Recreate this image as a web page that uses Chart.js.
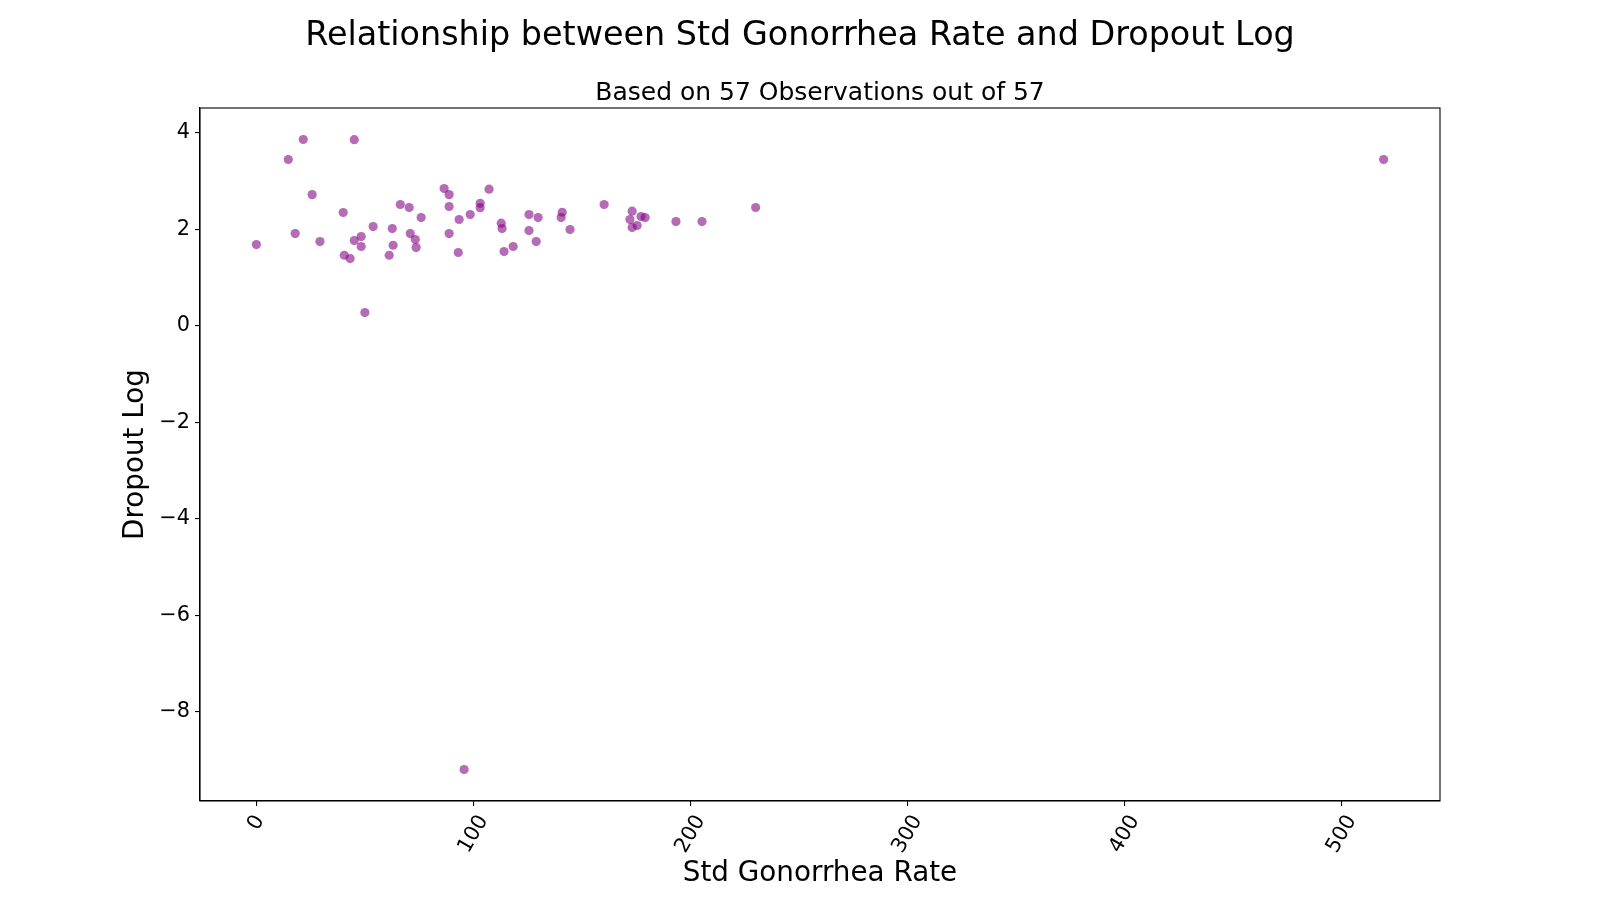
<!DOCTYPE html>
<html>
<head>
<meta charset="utf-8">
<script src="https://cdn.jsdelivr.net/npm/chart.js"></script>
<style>
  html, body { margin: 0; padding: 0; background: #ffffff; }
  #wrap { width: 1600px; height: 900px; }
</style>
</head>
<body>
<div id="wrap"><canvas id="scatterChart" width="1600" height="900"></canvas></div>
<script>
// Data
const gonorrheaRate = [
    0, 21.6, 45.1, 14.7, 25.7, 17.9, 29.3, 40.0, 40.5, 43.2,
    45.1, 48.3, 48.3, 50.0, 53.8, 62.6, 63.0, 61.2, 66.3, 70.4,
    75.9, 70.9, 73.2, 73.6, 86.5, 88.8, 88.8, 88.8, 93.0, 93.4,
    98.5, 103.1, 103.1, 107.2, 112.8, 113.2, 114.1, 118.3, 125.6, 129.8,
    125.6, 128.9, 140.9, 140.4, 144.5, 160.2, 173.1, 172.1, 173.1, 175.4,
    177.2, 179.1, 193.3, 205.3, 230.0, 95.7, 519.3
];
const dropoutLog = [
    1.685, 3.863, 3.86, 3.448, 2.72, 1.913, 1.747, 2.349, 1.463, 1.395,
    1.768, 1.851, 1.644, 0.275, 2.058, 2.017, 1.67, 1.463, 2.515, 2.453,
    2.245, 1.913, 1.789, 1.623, 2.847, 2.72, 2.474, 1.913, 1.52, 2.204,
    2.307, 2.54, 2.45, 2.832, 2.127, 2.017, 1.54, 1.644, 2.307, 2.245,
    1.975, 1.747, 2.355, 2.245, 1.996, 2.515, 2.376, 2.204, 2.038, 2.08,
    2.266, 2.245, 2.162, 2.162, 2.453, -9.2, 3.448
];
const xTicks = [0, 100, 200, 300, 400, 500];
const yTicks = [-8, -6, -4, -2, 0, 2, 4];

const titleText = 'Relationship between Std Gonorrhea Rate and Dropout Log';
const subtitleText = 'Based on 57 Observations out of 57';
const xLabel = 'Std Gonorrhea Rate';
const yLabel = 'Dropout Log';

const FONT = "'DejaVu Sans', 'Liberation Sans', sans-serif";
const TICK_SIZE = 20.8;

// 5% margins like matplotlib autoscale
function padRange(values) {
    const lo = Math.min(...values), hi = Math.max(...values);
    const pad = (hi - lo) * 0.05;
    return [lo - pad, hi + pad];
}
const [xMin, xMax] = padRange(gonorrheaRate);
const [yMin, yMax] = padRange(dropoutLog);

const minus = v => String(v).replace('-', '\u2212');

// frame, titles, rotated x tick labels
const decorPlugin = {
    id: 'decor',
    afterDraw(chart) {
        const { ctx, chartArea } = chart;
        const xs = chart.scales.x;
        ctx.save();
        ctx.strokeStyle = '#000';
        ctx.lineWidth = 1.1;
        ctx.strokeRect(chartArea.left, chartArea.top,
                       chartArea.right - chartArea.left, chartArea.bottom - chartArea.top);

        ctx.fillStyle = '#000';
        ctx.textAlign = 'center';
        ctx.textBaseline = 'alphabetic';
        ctx.font = '33.4px ' + FONT;
        ctx.fillText(titleText, 800, 45);
        ctx.font = '25px ' + FONT;
        ctx.fillText(subtitleText, (chartArea.left + chartArea.right) / 2, 100);

        // x tick labels, rotated 60 degrees about their centre
        ctx.font = TICK_SIZE + 'px ' + FONT;
        ctx.textBaseline = 'middle';
        const ang = 60 * Math.PI / 180;
        xs.ticks.forEach(t => {
            const label = minus(t.value);
            const w = ctx.measureText(label).width;
            const h = 24;
            const boxH = w * Math.sin(ang) + h * Math.cos(ang);
            const px = xs.getPixelForValue(t.value);
            const py = chartArea.bottom + 10 + boxH / 2;
            ctx.save();
            ctx.translate(px, py);
            ctx.rotate(-ang);
            ctx.fillText(label, 0, 0);
            ctx.restore();
        });

        // axis labels
        ctx.font = '27.8px ' + FONT;
        ctx.textBaseline = 'middle';
        ctx.fillText(xLabel, (chartArea.left + chartArea.right) / 2, 874);
        ctx.save();
        ctx.translate(136, (chartArea.top + chartArea.bottom) / 2);
        ctx.rotate(-Math.PI / 2);
        ctx.fillText(yLabel, 0, 0);
        ctx.restore();
        ctx.restore();
    }
};

new Chart(document.getElementById('scatterChart'), {
    type: 'scatter',
    data: {
        datasets: [{
            data: gonorrheaRate.map((x, i) => ({ x: x, y: dropoutLog[i] })),
            backgroundColor: 'rgba(128, 0, 128, 0.58)',
            borderWidth: 0,
            pointRadius: 4.6,
            pointHoverRadius: 4.6
        }]
    },
    options: {
        responsive: false,
        animation: false,
        devicePixelRatio: 1,
        layout: { padding: { left: 0, top: 108, right: 160, bottom: 0 } },
        plugins: {
            legend: { display: false },
            tooltip: { enabled: false },
            title: { display: false }
        },
        scales: {
            x: {
                type: 'linear',
                min: xMin,
                max: xMax,
                afterBuildTicks: scale => { scale.ticks = xTicks.map(v => ({ value: v })); },
                afterFit: scale => { scale.height = 99; },
                ticks: { display: false },
                grid: { drawOnChartArea: false, drawTicks: true, tickLength: 5, color: '#000', lineWidth: 1.1 },
                border: { display: true, color: '#000', width: 1.1 }
            },
            y: {
                type: 'linear',
                min: yMin,
                max: yMax,
                afterBuildTicks: scale => { scale.ticks = yTicks.map(v => ({ value: v })); },
                afterFit: scale => { scale.width = 200; },
                ticks: {
                    color: '#000',
                    padding: 5,
                    font: { family: FONT, size: TICK_SIZE },
                    callback: value => minus(value)
                },
                grid: { drawOnChartArea: false, drawTicks: true, tickLength: 5, color: '#000', lineWidth: 1.1 },
                border: { display: true, color: '#000', width: 1.1 }
            }
        }
    },
    plugins: [decorPlugin]
});
</script>
</body>
</html>
